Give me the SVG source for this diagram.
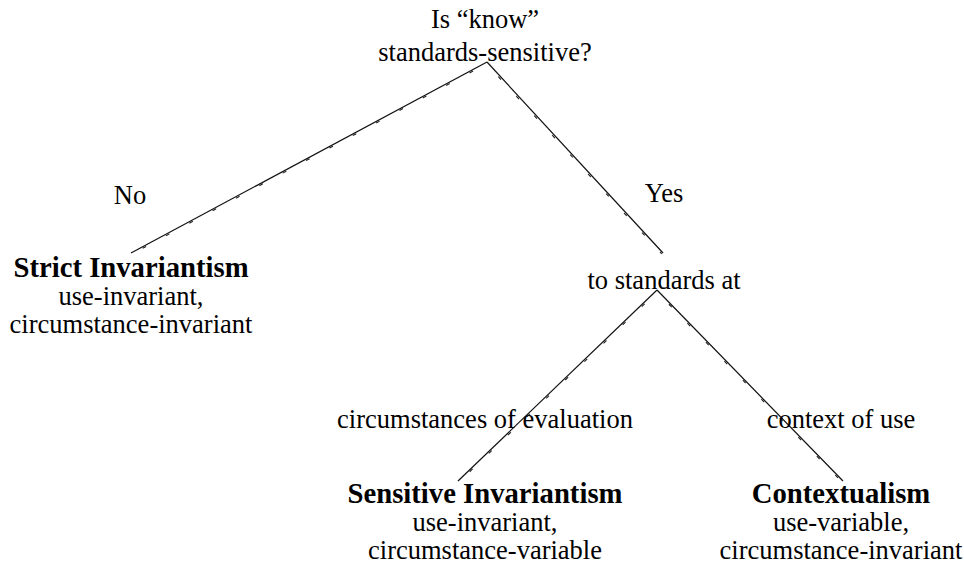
<svg xmlns="http://www.w3.org/2000/svg" width="964" height="572" viewBox="0 0 964 572">
<style>
text{fill:#000;text-anchor:middle}
.r{font-size:26.5px}
.b{font-size:28.7px;font-weight:bold}
.edge{stroke:#111;stroke-width:1.2;fill:none}
.tick{stroke:#222;stroke-width:1.1;fill:none;stroke-dasharray:4 22.5}
</style>
<rect width="964" height="572" fill="#fff"/>
<g font-family="Liberation Serif, Tinos, Times New Roman, DejaVu Serif, serif">
<g id="connectors">
<path class="edge" d="M487,62 L131,253"/>
<path class="edge" d="M487,62 L663,253"/>
<path class="edge" d="M657,290 L458,481"/>
<path class="edge" d="M657,290 L843,481"/>
<path class="tick" d="M487.6,63.2 L131.6,254.2" stroke-dashoffset="10"/>
<path class="tick" d="M485.8,63 L661.8,254" stroke-dashoffset="8"/>
<path class="tick" d="M658,291 L459,482" stroke-dashoffset="8"/>
<path class="tick" d="M656,291 L842,482" stroke-dashoffset="8"/>
<text class="r" x="130" y="204">No</text>
<text class="r" x="664" y="202">Yes</text>
<text class="r" x="485" y="428">circumstances of evaluation</text>
<text class="r" x="841" y="428">context of use</text>
</g>
<g id="root">
<text class="r" x="485" y="28">Is “know”</text>
<text class="r" x="485" y="61">standards-sensitive?</text>
</g>
<g id="strict-invariantism">
<text class="b" x="131" y="277">Strict Invariantism</text>
<text class="r" x="131" y="305">use-invariant,</text>
<text class="r" x="131" y="333">circumstance-invariant</text>
</g>
<g id="standards-at">
<text class="r" x="664" y="289">to standards at</text>
</g>
<g id="sensitive-invariantism">
<text class="b" x="485" y="503">Sensitive Invariantism</text>
<text class="r" x="485" y="531">use-invariant,</text>
<text class="r" x="485" y="559">circumstance-variable</text>
</g>
<g id="contextualism">
<text class="b" x="841" y="503">Contextualism</text>
<text class="r" x="841" y="531">use-variable,</text>
<text class="r" x="841" y="559">circumstance-invariant</text>
</g>
</g>
</svg>
